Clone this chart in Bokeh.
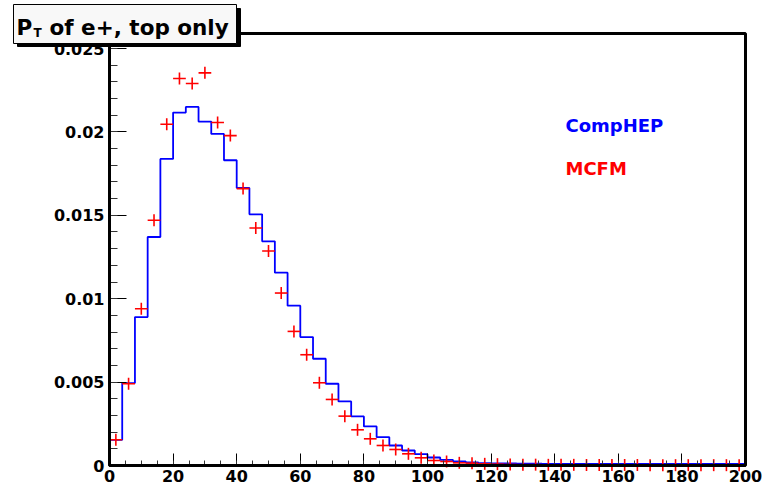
import numpy as np
from bokeh.plotting import figure
from bokeh.models import (Range1d, FixedTicker, CustomJSTickFormatter,
                          Label, BoxAnnotation)
from bokeh.embed import file_html
from bokeh.resources import INLINE

# ---------------- data ----------------
bin_edges = list(range(0, 201, 4))          # 50 bins of width 4
comphep = [0.00154, 0.00494, 0.0089, 0.0137, 0.01838, 0.02116, 0.0215, 0.02062, 0.01988, 0.0183,
           0.01664, 0.01506, 0.01344, 0.01156, 0.00958, 0.0077, 0.0064, 0.0049, 0.00384, 0.00294,
           0.00234, 0.0017, 0.0012, 0.0009, 0.00068, 0.00048, 0.00034, 0.00025, 0.00018, 0.00014,
           0.00012, 0.00013, 0.00011, 0.00011, 0.0001, 0.0001, 0.0001, 0.0001, 0.0001, 0.0001,
           0.0001, 0.0001, 0.0001, 0.0001, 0.0001, 0.0001, 0.0001, 0.0001, 0.0001, 0.0001]
mcfm = [0.00154, 0.0049, 0.0094, 0.0147, 0.02046, 0.0232, 0.0229, 0.02354, 0.02056, 0.01978,
        0.0166, 0.01424, 0.01286, 0.01034, 0.00804, 0.00664, 0.00496, 0.00396, 0.00296, 0.00214,
        0.0016, 0.0012, 0.00096, 0.0007, 0.00046, 0.0003, 0.00024, 0.00016, 0.00014, 0.0001,
        0.00008, 0.00006, 0.00005, 0.00005, 0.00004, 0.00004, 0.00004, 0.00003, 0.00003, 0.00003,
        0.00003, 0.00003, 0.00002, 0.00002, 0.00002, 0.00002, 0.00002, 0.00002, 0.00002, 0.00002]
x_major_ticks = [0, 20, 40, 60, 80, 100, 120, 140, 160, 180, 200]
x_minor_ticks = [v for v in range(0, 201, 5)]
y_major_ticks = [0, 0.005, 0.01, 0.015, 0.02, 0.025]
y_minor_ticks = [i / 1000 for i in range(0, 26)]
title_parts = ["P", "T", "of e+, top only"]
legend_names = ["CompHEP", "MCFM"]

XMIN, XMAX = 0, 200
YMIN, YMAX = 0, 0.0259

# pixel geometry of the frame inside the 767x489 canvas
W, H = 767, 489
FL, FR, FT, FB = 109, 745, 33, 465
sx = (FR - FL) / (XMAX - XMIN)
sy = (FB - FT) / (YMAX - YMIN)

def px_x(v):
    return XMIN + (v - FL) / sx
def px_y(v):
    return YMIN + (FB - v) / sy

edges = np.array(bin_edges, dtype=float)
centers = (edges[:-1] + edges[1:]) / 2
half = (edges[1:] - edges[:-1]) / 2

p = figure(width=W, height=H,
           x_range=Range1d(XMIN - FL / sx, XMAX + (W - FR) / sx),
           y_range=Range1d(YMIN - (H - FB) / sy, YMAX + FT / sy),
           output_backend="svg", toolbar_location=None, title=None,
           min_border=0, min_border_left=0, min_border_right=0,
           min_border_top=0, min_border_bottom=0)
p.background_fill_color = "white"
p.border_fill_color = "white"
p.xgrid.visible = False
p.ygrid.visible = False
p.outline_line_color = None

# CompHEP histogram
p.step(x=list(edges), y=comphep + [comphep[-1]], mode="after",
       line_color="#0000ff", line_width=1.8)

# MCFM crosses
p.segment(x0=list(centers - half), y0=mcfm, x1=list(centers + half), y1=mcfm,
          line_color="#ff0000", line_width=1.6)
p.scatter(x=list(centers), y=mcfm, marker="dash", angle=np.pi / 2, size=12,
          line_color="#ff0000", line_width=1.6)

# axes (fixed at the data origin, so the frame can hold the title box)
for ax in (p.xaxis[0], p.yaxis[0]):
    ax.fixed_location = 0
    ax.axis_line_color = "black"
    ax.axis_line_width = 3
    ax.major_tick_line_color = "black"
    ax.major_tick_line_width = 1
    ax.minor_tick_line_color = "#333333"
    ax.minor_tick_line_width = 1
    ax.major_tick_out = 0
    ax.minor_tick_out = 0
    ax.major_label_text_font = "DejaVu Sans"
    ax.major_label_text_font_style = "bold"
    ax.major_label_text_font_size = "16px"
    ax.major_label_text_color = "black"

p.xaxis.bounds = (XMIN, XMAX)
p.xaxis.ticker = FixedTicker(ticks=x_major_ticks, minor_ticks=x_minor_ticks)
p.xaxis.major_tick_in = 12
p.xaxis.minor_tick_in = 5
p.xaxis.major_label_standoff = 4

p.yaxis.bounds = (YMIN, YMAX)
p.yaxis.ticker = FixedTicker(ticks=y_major_ticks, minor_ticks=y_minor_ticks)
p.yaxis.major_tick_in = 17
p.yaxis.minor_tick_in = 8
p.yaxis.major_label_standoff = 5
p.yaxis.formatter = CustomJSTickFormatter(code="return parseFloat(tick.toFixed(4)).toString();")

# frame
p.add_layout(BoxAnnotation(left=XMIN, right=XMAX, bottom=YMIN, top=YMAX,
                           fill_alpha=0, line_color="black", line_width=3, line_alpha=1.0))

# legend texts
def txt(x, y, text, color, size):
    return Label(x=x, y=y, text=text, text_color=color, text_font="DejaVu Sans",
                 text_font_style="bold", text_font_size=size, text_baseline="alphabetic")

p.add_layout(txt(px_x(565), px_y(124.5), legend_names[0], "#0000ff", "18px"))
p.add_layout(txt(px_x(565), px_y(168), legend_names[1], "#ff0000", "18px"))

# title box (ROOT style) with shadow
p.add_layout(BoxAnnotation(left=px_x(17), right=px_x(240), top=px_y(8), bottom=px_y(46),
                           fill_color="black", fill_alpha=1.0, line_color="black", line_alpha=1.0))
p.add_layout(BoxAnnotation(left=px_x(13), right=px_x(236), top=px_y(4), bottom=px_y(43),
                           fill_color="#f8f8f8", fill_alpha=1.0, line_color="black",
                           line_width=1, line_alpha=1.0))
p.add_layout(txt(px_x(16), px_y(26.5), title_parts[0], "black", "21.5px"))
p.add_layout(txt(px_x(33), px_y(32.5), title_parts[1], "black", "12px"))
p.add_layout(txt(px_x(49), px_y(26.5), title_parts[2], "black", "21.5px"))

open("out.html", "w").write(file_html(p, INLINE))
